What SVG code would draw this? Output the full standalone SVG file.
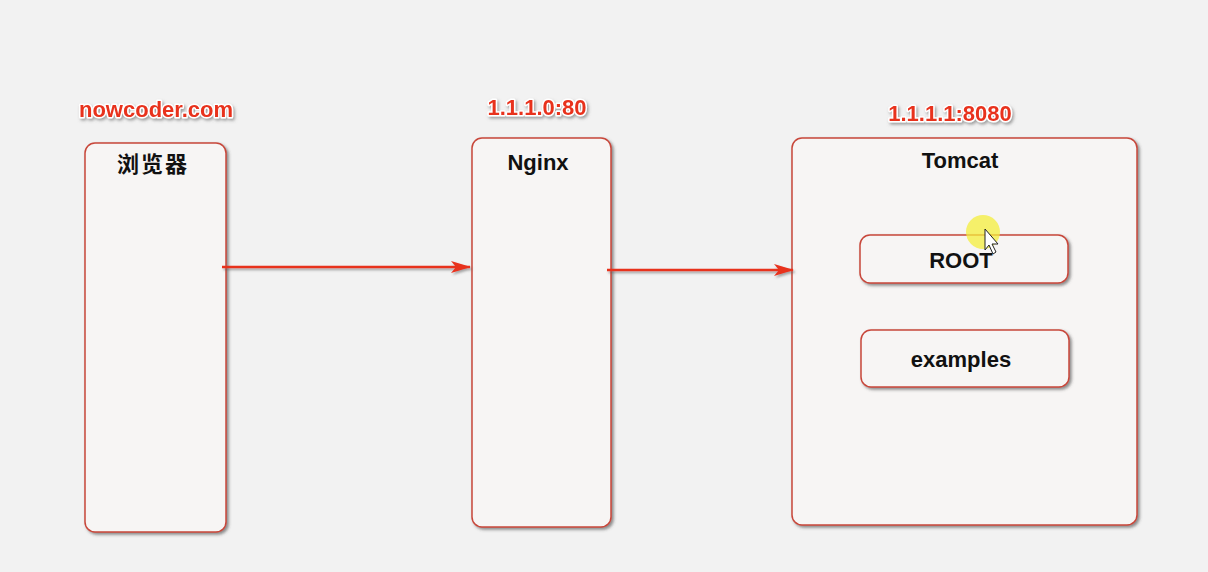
<svg xmlns="http://www.w3.org/2000/svg" width="1208" height="572" viewBox="0 0 1208 572">
<defs>
<filter id="sh" x="-10%" y="-10%" width="130%" height="130%">
<feDropShadow dx="2" dy="2" stdDeviation="1.5" flood-color="#444" flood-opacity="0.6"/>
</filter>
<filter id="lsh" filterUnits="userSpaceOnUse" x="0" y="0" width="1208" height="572">
<feDropShadow dx="1.5" dy="2" stdDeviation="1.2" flood-color="#555" flood-opacity="0.5"/>
</filter>
<filter id="tsh" x="-10%" y="-30%" width="130%" height="170%">
<feDropShadow dx="1.5" dy="2" stdDeviation="1.5" flood-color="#666" flood-opacity="0.6"/>
</filter>
<marker id="ah" viewBox="0 0 20 12" refX="19" refY="6" markerWidth="20" markerHeight="12" markerUnits="userSpaceOnUse" orient="auto">
<path d="M0,0 L20,6 L0,12 L5,6 Z" fill="#e8321e"/>
</marker>
<style>
.box{fill:#f7f5f4;stroke:#c8473a;stroke-width:1.5;filter:url(#sh)}
.lbl{font-family:"Liberation Sans",Arial,"Noto Sans CJK SC",sans-serif;font-weight:bold;font-size:22px;fill:#111;text-anchor:middle}
.ip{font-family:"Liberation Sans",Arial,sans-serif;font-weight:bold;font-size:22px;fill:#e8321e;stroke:#fff;stroke-width:3;paint-order:stroke;stroke-linejoin:round;text-anchor:middle;filter:url(#tsh)}
.conn{stroke:#e8321e;stroke-width:2.6;fill:none}
</style>
</defs>
<rect width="1208" height="572" fill="#f2f2f2"/>
<g id="labels">
<text class="ip" x="156" y="117">nowcoder.com</text>
<text class="ip" x="537" y="115">1.1.1.0:80</text>
<text class="ip" x="950" y="121">1.1.1.1:8080</text>
</g>
<g id="browser">
<rect class="box" x="85" y="143" width="141" height="389" rx="10"/>
<text class="lbl" x="153" y="172" style="letter-spacing:2px">浏览器</text>
</g>
<g id="nginx">
<rect class="box" x="472" y="138" width="139" height="389" rx="10"/>
<text class="lbl" x="538" y="170">Nginx</text>
</g>
<g id="tomcat">
<rect class="box" x="792" y="138" width="345" height="387" rx="10"/>
<text class="lbl" x="960" y="168">Tomcat</text>
</g>
<g id="root">
<rect class="box" x="860" y="235" width="208" height="48" rx="10"/>
<text class="lbl" x="961" y="268">ROOT</text>
</g>
<g id="examples">
<rect class="box" x="861" y="330" width="208" height="57" rx="10"/>
<text class="lbl" x="961" y="367">examples</text>
</g>
<g id="connectors" filter="url(#lsh)">
<line class="conn" x1="222" y1="267" x2="470" y2="267" marker-end="url(#ah)"/>
<line class="conn" x1="607" y1="270" x2="793" y2="270" marker-end="url(#ah)"/>
</g>
<g id="cursor">
<circle cx="983" cy="232" r="17" fill="#f4ee3c" opacity="0.75"/>
<path d="M985,229 L985,250 L989,245 L993,254 L996,252 L992,244 L998,244 Z" fill="#fff" stroke="#222" stroke-width="1"/>
</g>
</svg>
